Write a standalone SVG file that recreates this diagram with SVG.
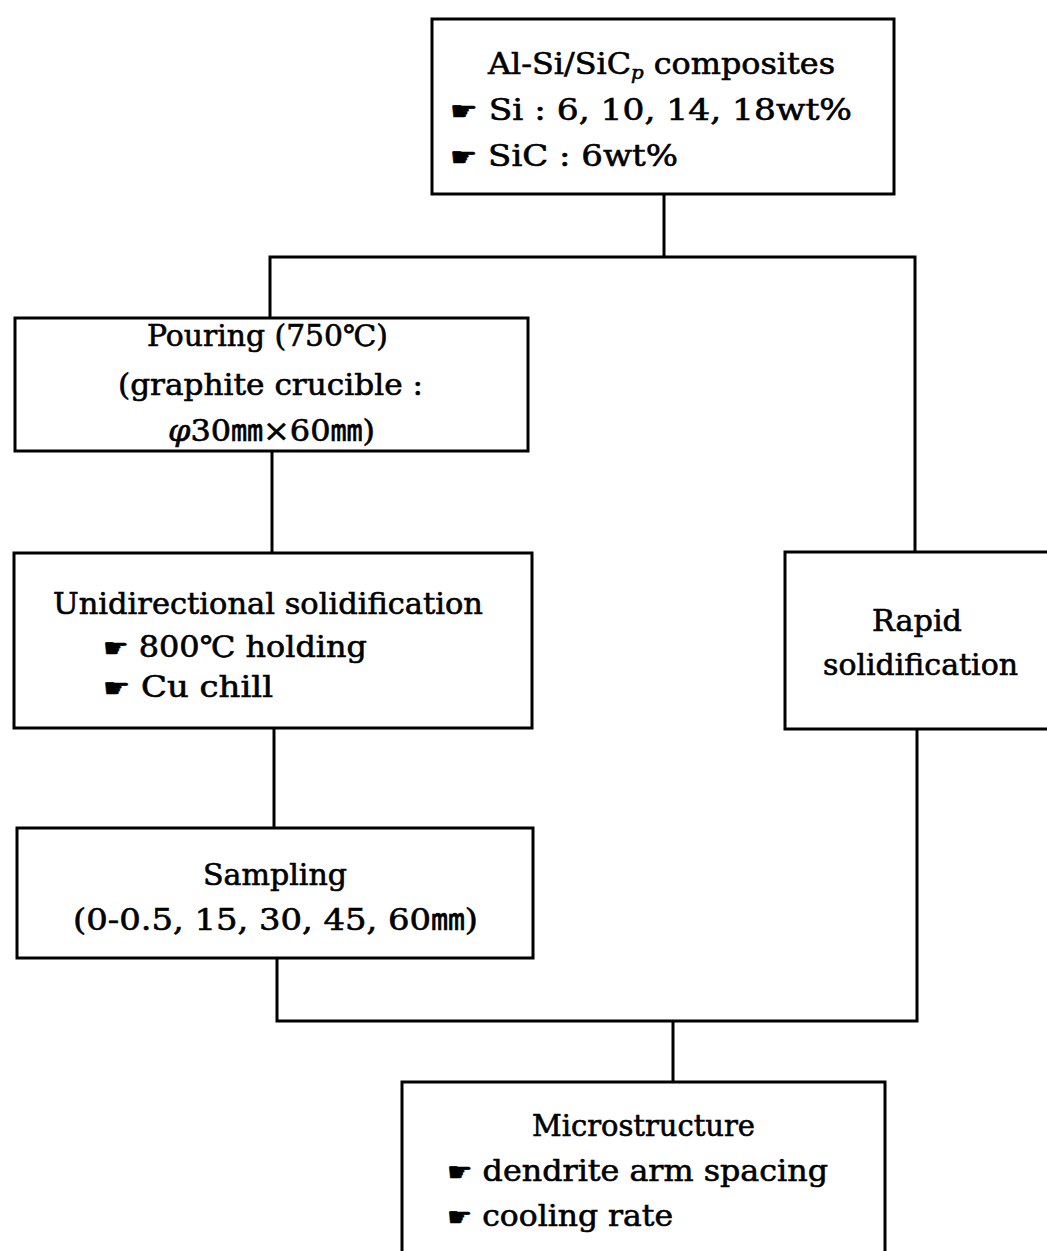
<svg xmlns="http://www.w3.org/2000/svg" width="1047" height="1251" viewBox="0 0 1047 1251">
<style>
.box{fill:#fff;stroke:#000;stroke-width:3}
.ln{fill:none;stroke:#000;stroke-width:3;stroke-linecap:square}
text{font-family:"DejaVu Serif","Noto Sans CJK KR",serif;font-size:29px;fill:#000;stroke:#000;stroke-width:0.6}
.c{text-anchor:middle}
.h{font-family:"DejaVu Sans","Noto Sans CJK KR",sans-serif;font-size:26px}
</style>
<rect width="1047" height="1251" fill="#fff"/>
<g id="connectors">
<path class="ln" d="M664,194 V257 M270,257 H915 M270,257 V318 M915,257 V552"/>
<path class="ln" d="M272,451 V553"/>
<path class="ln" d="M274,728 V828"/>
<path class="ln" d="M277,958 V1021 H917 M917,729 V1021 M673,1021 V1082"/>
</g>
<g id="composites">
<rect class="box" x="432" y="19" width="462" height="175"/>
<text x="488" y="74" textLength="347" lengthAdjust="spacingAndGlyphs">Al-Si/SiC<tspan font-size="18" font-style="italic" dy="5">p</tspan><tspan dy="-5"> composites</tspan></text>
<text x="450" y="120" textLength="402" lengthAdjust="spacingAndGlyphs"><tspan class="h">☛</tspan> Si : 6, 10, 14, 18wt%</text>
<text x="450" y="166" textLength="228" lengthAdjust="spacingAndGlyphs"><tspan class="h">☛</tspan> SiC : 6wt%</text>
</g>
<g id="pouring">
<rect class="box" x="15" y="318" width="513" height="133"/>
<text x="147" y="346" textLength="241" lengthAdjust="spacingAndGlyphs">Pouring (750℃)</text>
<text x="118" y="395" textLength="305" lengthAdjust="spacingAndGlyphs">(graphite crucible :</text>
<text x="168" y="441" textLength="207" lengthAdjust="spacingAndGlyphs"><tspan font-style="italic">φ</tspan>30㎜×60㎜)</text>
</g>
<g id="unidirectional">
<rect class="box" x="14" y="553" width="518" height="175"/>
<text x="53" y="614" textLength="430" lengthAdjust="spacingAndGlyphs">Unidirectional solidification</text>
<text x="103" y="657" textLength="264" lengthAdjust="spacingAndGlyphs"><tspan class="h">☛</tspan> 800℃ holding</text>
<text x="103" y="697" textLength="170" lengthAdjust="spacingAndGlyphs"><tspan class="h">☛</tspan> Cu chill</text>
</g>
<g id="rapid">
<rect class="box" x="785" y="552" width="280" height="177"/>
<text x="872" y="631" textLength="90" lengthAdjust="spacingAndGlyphs">Rapid</text>
<text x="823" y="675" textLength="195" lengthAdjust="spacingAndGlyphs">solidification</text>
</g>
<g id="sampling">
<rect class="box" x="17" y="828" width="516" height="130"/>
<text x="203" y="885" textLength="144" lengthAdjust="spacingAndGlyphs">Sampling</text>
<text x="73" y="930" textLength="405" lengthAdjust="spacingAndGlyphs">(0-0.5, 15, 30, 45, 60㎜)</text>
</g>
<g id="microstructure">
<rect class="box" x="402" y="1082" width="483" height="190"/>
<text x="532" y="1136" textLength="223" lengthAdjust="spacingAndGlyphs">Microstructure</text>
<text x="447" y="1181" textLength="381" lengthAdjust="spacingAndGlyphs"><tspan class="h">☛</tspan> dendrite arm spacing</text>
<text x="447" y="1226" textLength="226" lengthAdjust="spacingAndGlyphs"><tspan class="h">☛</tspan> cooling rate</text>
</g>
</svg>
